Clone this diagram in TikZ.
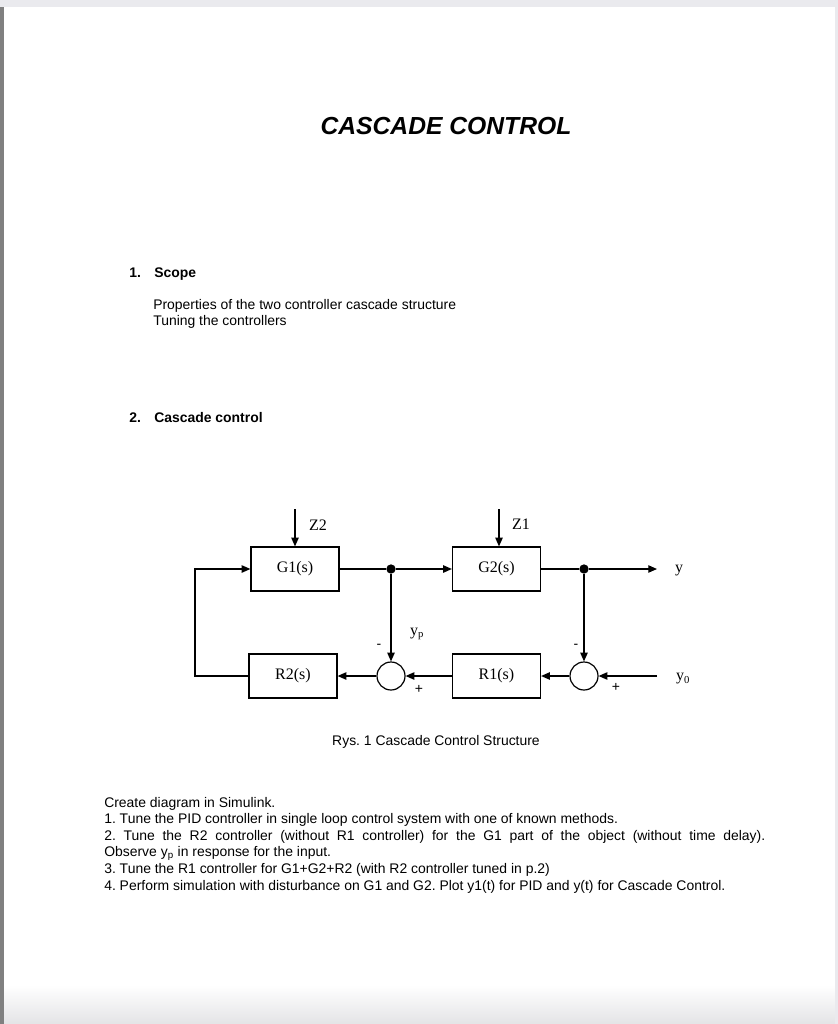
\documentclass[tikz,border=0pt]{standalone}
\usepackage{fontspec}
\setmainfont{Liberation Sans}
\newfontfamily\timesfont{Liberation Serif}
\usepackage{tikz}
\usetikzlibrary{arrows.meta}
\definecolor{pagegrey}{RGB}{234,234,238}
\definecolor{edgegrey}{RGB}{128,128,128}
\definecolor{shadegrey}{RGB}{228,228,230}
\frenchspacing

\begin{document}
\begin{tikzpicture}[x=0.75pt, y=-0.75pt,
	block/.style={draw, line width=0.9pt, minimum width=66pt, minimum height=33pt, inner sep=0pt,
		font=\timesfont\fontsize{12}{14}\selectfont},
	sumnode/.style={draw, circle, line width=0.9pt, minimum size=21pt, inner sep=0pt},
	dotnode/.style={circle, fill, minimum size=7pt, inner sep=0pt},
	sig/.style={line width=0.9pt},
	arr/.style={sig, -{Triangle[length=6.5pt, width=5.5pt]}},
	lbl/.style={font=\timesfont\fontsize{12}{14}\selectfont, inner sep=0pt},
	sgn/.style={font=\fontsize{10.5}{12}\selectfont, inner sep=0pt},
	body/.style={font=\fontsize{10.45}{12.45}\selectfont, inner sep=0pt},
	head/.style={font=\fontsize{10.45}{12.45}\selectfont\bfseries, inner sep=0pt}]
			% Page and viewer edges
			\useasboundingbox (0,0) rectangle (838,1024);
			\fill[white] (0,0) rectangle (838,1024);
			\shade[top color=white, bottom color=shadegrey] (4,985) rectangle (838,1024);
			\fill[pagegrey] (0,0) rectangle (838,7);
			\fill[edgegrey] (0,7) rectangle (4,1024);
			\fill[pagegrey] (835,7) rectangle (838,1024);
			% Title
			\node[font=\fontsize{18.5}{22}\selectfont\bfseries\itshape, inner sep=0pt, anchor=base]
				(title) at (446,134) {CASCADE CONTROL};
			% Section 1
			\node[head, anchor=base west] (s1num) at (129,277) {1.};
			\node[head, anchor=base west] (s1head) at (154,277) {Scope};
			\node[body, anchor=base west] (scope1) at (153,309) {Properties of the two controller cascade structure};
			\node[body, anchor=base west] (scope2) at (153,325) {Tuning the controllers};
			% Section 2
			\node[head, anchor=base west] (s2num) at (129,422) {2.};
			\node[head, anchor=base west] (s2head) at (154,422) {Cascade control};
			% Blocks
			\node[block] (g1) at (295,569) {G1(s)};
			\node[block] (g2) at (496.5,569) {G2(s)};
			\node[block] (r2) at (293,676) {R2(s)};
			\node[block] (r1) at (496.5,676) {R1(s)};
			\node[sumnode] (sum1) at (391,676) {};
			\node[sumnode] (sum2) at (584,676) {};
			\node[dotnode] (j1) at (391,569) {};
			\node[dotnode] (j2) at (584,569) {};
			% Free ends
			\coordinate (z2) at (295,509);
			\coordinate (z1) at (499,509);
			\coordinate (yout) at (657,569);
			\coordinate (yin) at (657,676);
			\coordinate (fb) at (195,676);
			% Signals
			\draw[arr] (z2) -- (g1.north);
			\draw[arr] (z1) -- (z1 |- g2.north);
			\draw[sig] (g1.east) -- (j1);
			\draw[arr] (j1) -- (g2.west);
			\draw[sig] (g2.east) -- (j2);
			\draw[arr] (j2) -- (yout);
			\draw[arr] (j1) -- (sum1.north);
			\draw[arr] (j2) -- (sum2.north);
			\draw[arr] (yin) -- (sum2.east);
			\draw[arr] (sum2.west) -- (r1.east);
			\draw[arr] (r1.west) -- (sum1.east);
			\draw[arr] (sum1.west) -- (r2.east);
			\draw[arr] (r2.west) -- (fb) |- (g1.west);
			% Labels
			\node[lbl] (z2lbl) at (318,525) {Z2};
			\node[lbl] (z1lbl) at (521,524) {Z1};
			\node[lbl] (ylbl) at (679,571) {y};
			\node[lbl] (y0lbl) at (683,679) {y\textsubscript{0}};
			\node[lbl] (yplbl) at (417,634) {y\textsubscript{p}};
			\node[sgn] (m1) at (379,646) {-};
			\node[sgn] (m2) at (576,646) {-};
			\node[sgn] (p1) at (419,689) {+};
			\node[sgn] (p2) at (616,687) {+};
			% Caption
			\node[body, anchor=base] (caption) at (436,745) {Rys. 1 Cascade Control Structure};
			% Tasks
			\node[body, anchor=base west, text width=495.75pt, align=justify] (tasks) at (104,807)
				{Create diagram in Simulink.\par
				1. Tune the PID controller in single loop control system with one of known methods.\par
				2. Tune the R2 controller (without R1 controller) for the G1 part of the object (without time delay).\linebreak
				Observe y\textsubscript{p} in response for the input.\par
				3. Tune the R1 controller for G1+G2+R2 (with R2 controller tuned in p.2)\par
				4. Perform simulation with disturbance on G1 and G2. Plot y1(t) for PID and y(t) for Cascade Control.};
		\end{tikzpicture}
\end{document}
